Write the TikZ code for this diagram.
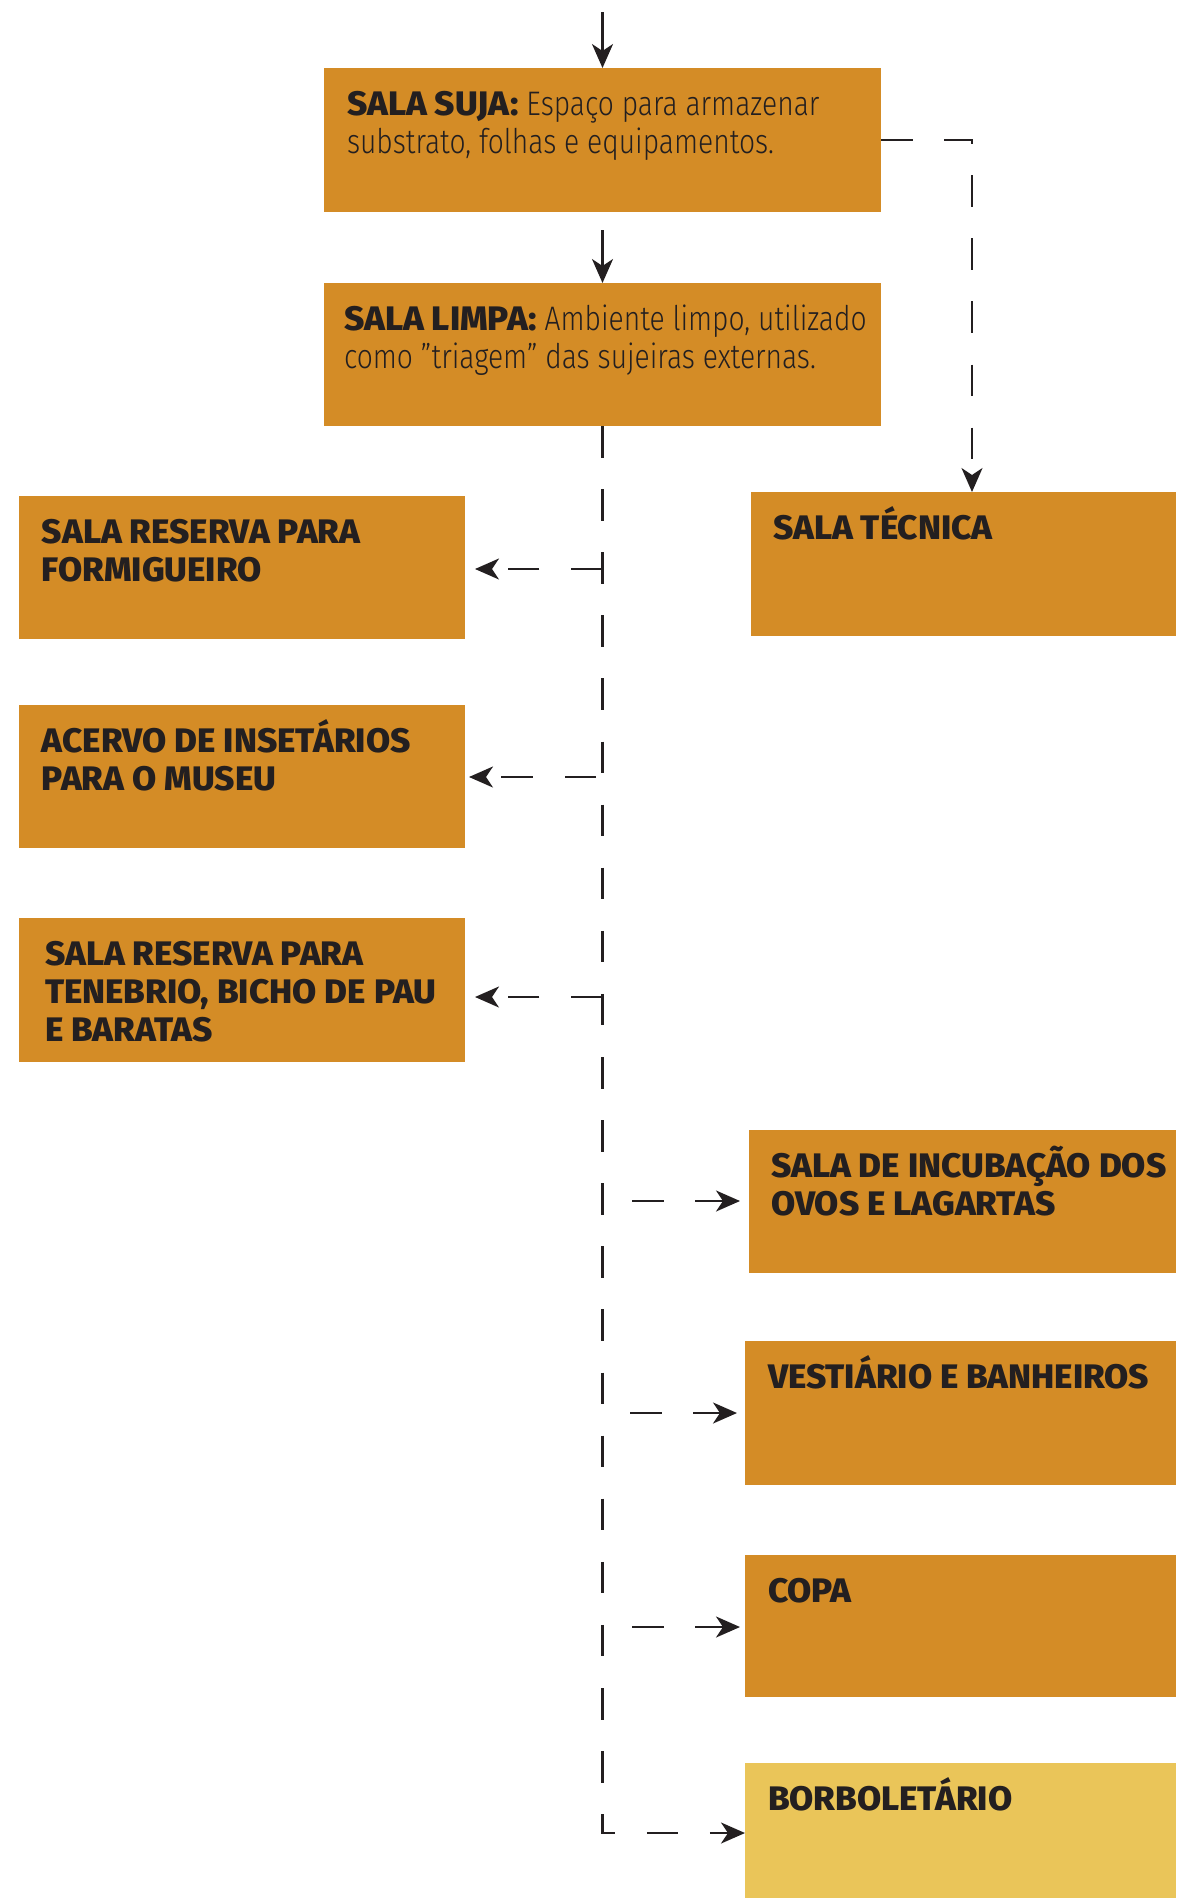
\documentclass[tikz,border=0pt]{standalone}
\usepackage{fontspec}
\setmainfont{Fira Sans}[BoldFont={* ExtraBold},BoldFeatures={FakeStretch=1.03}]
\newfontfamily\lightfont{Fira Sans Light}[FakeStretch=0.83]
\usetikzlibrary{arrows.meta,calc}
\definecolor{boxor}{RGB}{212,140,38}
\definecolor{boxye}{RGB}{234,197,89}
\definecolor{ink}{RGB}{35,31,32}
% #1 width, #2 height, #3 left inset, #4 text
\newcommand\bxtext[4]{\parbox[t][#2][t]{#1}{\leftskip=#3\rightskip=0pt plus 1fil\parindent=0pt\parfillskip=0pt plus 1fil\fontsize{34}{38}\selectfont\bfseries\rule{0pt}{47pt}#4}}
\begin{document}
\begin{tikzpicture}[x=1pt,y=-1pt,
  bx/.style={fill=boxor,inner sep=0pt,outer sep=0pt,text=ink,anchor=north west},
  bxy/.style={bx,fill=boxye},
  conn/.style={draw=ink,line width=2.4pt,-{Stealth[length=24pt,width=21pt,inset=7pt]}},
  dconn/.style={conn,dash pattern=on 31.5pt off 31.6pt}]
\useasboundingbox (0,0) rectangle (1176,1898);
\node[bx] (suja) at (324,68) {\bxtext{557pt}{144pt}{23pt}{SALA SUJA: {\lightfont\mdseries Espaço para armazenar}\\{\lightfont\mdseries substrato, folhas e equipamentos.}}};
\node[bx] (limpa) at (324,283) {\bxtext{557pt}{143pt}{20pt}{SALA LIMPA: {\lightfont\mdseries Ambiente limpo, utilizado}\\{\lightfont\mdseries como ”triagem” das sujeiras externas.}}};
\node[bx] (formig) at (19,496) {\bxtext{446pt}{143pt}{23pt}{SALA RESERVA PARA\\FORMIGUEIRO}};
\node[bx] (tecnica) at (751,492) {\bxtext{425pt}{144pt}{22pt}{SALA TÉCNICA}};
\node[bx] (acervo) at (19,705) {\bxtext{446pt}{143pt}{23pt}{ACERVO DE INSETÁRIOS\\PARA O MUSEU}};
\node[bx] (teneb) at (19,918) {\bxtext{446pt}{144pt}{26pt}{SALA RESERVA PARA\\TENEBRIO, BICHO DE PAU\\E BARATAS}};
\node[bx] (incub) at (749,1130) {\bxtext{427pt}{143pt}{22pt}{SALA DE INCUBAÇÃO DOS\\OVOS E LAGARTAS}};
\node[bx] (vest) at (745,1341) {\bxtext{431pt}{144pt}{23pt}{VESTIÁRIO E BANHEIROS}};
\node[bx] (copa) at (745,1555) {\bxtext{431pt}{142pt}{23pt}{COPA}};
\node[bxy] (borb) at (745,1763) {\bxtext{431pt}{135pt}{23pt}{BORBOLETÁRIO}};
% coordinates
\coordinate (top) at (602.5,12);
\coordinate (c1) at (972,140);
\coordinate (j1) at (602.5,569);
\coordinate (j2) at (596,777);
\coordinate (j3) at (602.5,997);
\coordinate (j4) at (632,1201);
\coordinate (j5) at (630,1413);
\coordinate (j6) at (632,1627);
\coordinate (jb) at (602.5,1833);
% connectors
\draw[conn] (top) -- (suja.north);
\draw[conn] ($(suja.south)+(0,18)$) -- (limpa.north);
\draw[dconn] (suja.east) -- (c1) -- (c1 |- tecnica.north);
\draw[dconn] (limpa.south) -- (jb) -- (jb -| borb.west);
\draw[dconn,shorten >=10pt] (j1) -- (j1 -| formig.east);
\draw[dconn,shorten >=4pt] (j2) -- (j2 -| acervo.east);
\draw[dconn,shorten >=10pt] (j3) -- (j3 -| teneb.east);
\draw[dconn,shorten >=9pt] (j4) -- (j4 -| incub.west);
\draw[dconn,shorten >=8pt] (j5) -- (j5 -| vest.west);
\draw[dconn,shorten >=5pt] (j6) -- (j6 -| copa.west);
\end{tikzpicture}
\end{document}
